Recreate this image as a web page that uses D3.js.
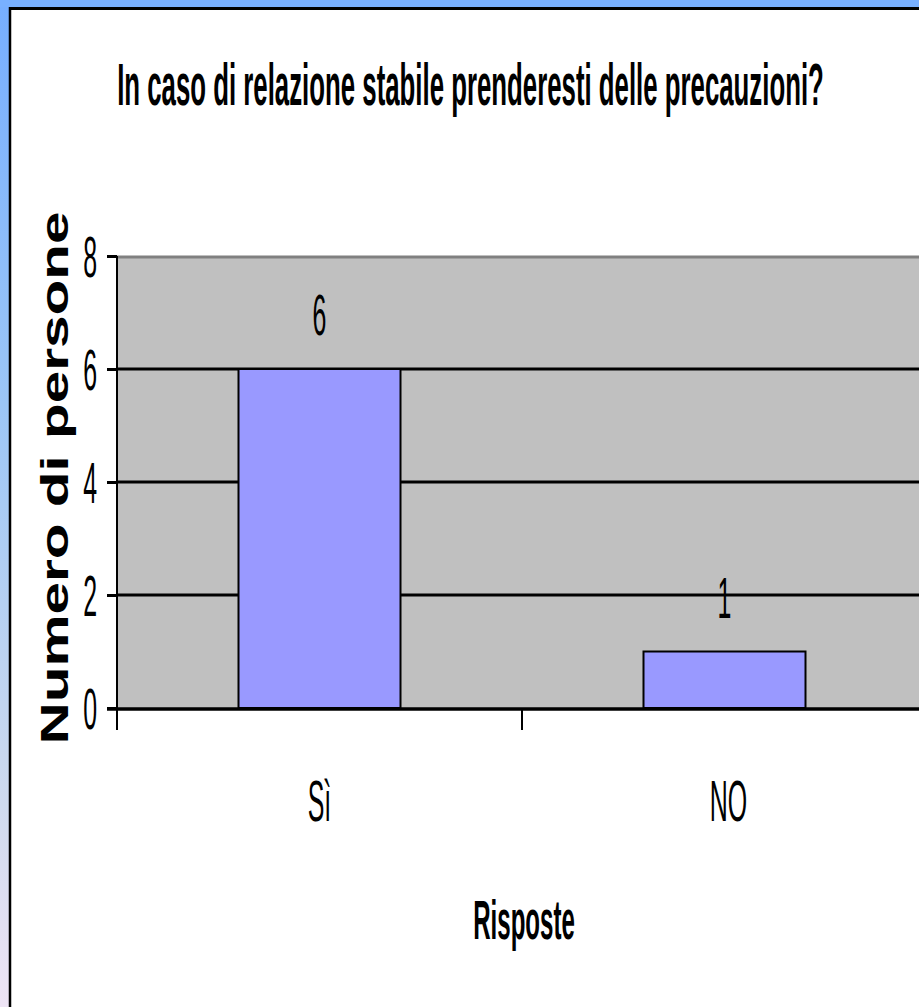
<!DOCTYPE html>
<html>
<head>
<meta charset="utf-8">
<script src="https://cdnjs.cloudflare.com/ajax/libs/d3/7.8.5/d3.min.js"></script>
<style>
html,body{margin:0;padding:0;background:#fff;}
svg{display:block;}
text{font-family:"Liberation Sans",Arial,sans-serif;fill:#000;}
</style>
</head>
<body>
<div id="chart"></div>
<script>
const categories = ["Sì", "NO"];
const values = [6, 1];
const yTicks = [0, 2, 4, 6, 8];
const titleText = "In caso di relazione stabile prenderesti delle precauzioni?";
const xTitle = "Risposte";
const yTitle = "Numero di persone";

const W = 919, H = 1007;
const SX = 0.43; // horizontal compression of glyphs
const plot = {left: 117, top: 256, bottom: 708, right: 927};

const svg = d3.select("#chart").append("svg").attr("width", W).attr("height", H);
const defs = svg.append("defs");
const grad = defs.append("linearGradient").attr("id", "frameGrad")
  .attr("x1", 0).attr("y1", 0).attr("x2", 0).attr("y2", 1);
grad.append("stop").attr("offset", "0%").attr("stop-color", "#76AEFF");
grad.append("stop").attr("offset", "40%").attr("stop-color", "#9CC6F6");
grad.append("stop").attr("offset", "80%").attr("stop-color", "#CFDAEE");
grad.append("stop").attr("offset", "100%").attr("stop-color", "#EEE4F5");

// frame
svg.append("rect").attr("x", 0).attr("y", 0).attr("width", W).attr("height", H).attr("fill", "url(#frameGrad)");
svg.append("rect").attr("x", 0).attr("y", 0).attr("width", W).attr("height", 7).attr("fill", "#78B0FF");
svg.append("rect").attr("x", 10).attr("y", 8).attr("width", W - 10).attr("height", H - 8).attr("fill", "#fff");
svg.append("line").attr("x1", 9).attr("x2", W).attr("y1", 8.5).attr("y2", 8.5).attr("stroke", "#000").attr("stroke-width", 3);
svg.append("line").attr("x1", 10).attr("x2", 10).attr("y1", 7).attr("y2", H).attr("stroke", "#000").attr("stroke-width", 2.5);

// scales
const x = d3.scaleBand().domain(categories).range([plot.left, plot.right])
  .paddingInner(0.6).paddingOuter(0.3);
const y = d3.scaleLinear().domain([0, 8]).range([plot.bottom, plot.top]);

// plot area
svg.append("rect").attr("x", plot.left).attr("y", y(8))
  .attr("width", plot.right - plot.left).attr("height", y(0) - y(8)).attr("fill", "#C0C0C0");
svg.append("line").attr("x1", plot.left).attr("x2", plot.right)
  .attr("y1", y(8) + 1).attr("y2", y(8) + 1).attr("stroke", "#808080").attr("stroke-width", 3);

// gridlines
svg.append("g").selectAll("line").data(yTicks.filter(t => t > 0 && t < 8)).join("line")
  .attr("x1", plot.left).attr("x2", plot.right)
  .attr("y1", d => y(d)).attr("y2", d => y(d))
  .attr("stroke", "#000").attr("stroke-width", 3);

// bars
svg.append("g").selectAll("rect").data(categories).join("rect")
  .attr("x", d => x(d)).attr("width", x.bandwidth())
  .attr("y", (d, i) => y(values[i])).attr("height", (d, i) => y(0) - y(values[i]))
  .attr("fill", "#9999FF").attr("stroke", "#000").attr("stroke-width", 2);

// y axis
const yAxis = d3.axisLeft(y).tickValues(yTicks).tickSize(10).tickFormat("");
const gy = svg.append("g").attr("transform", `translate(${plot.left},0)`).call(yAxis);
gy.select(".domain").attr("stroke", "#000").attr("stroke-width", 2).attr("d", `M0,${y(8)}V${y(0)}`);
gy.selectAll(".tick line").attr("stroke", "#000").attr("stroke-width", 3);

// x axis line + category boundary ticks
svg.append("line").attr("x1", plot.left - 10).attr("x2", plot.right)
  .attr("y1", y(0) + 1).attr("y2", y(0) + 1).attr("stroke", "#000").attr("stroke-width", 3.5);
const edges = d3.range(categories.length + 1).map(i => x.range()[0] + i * x.step());
svg.append("g").selectAll("line").data(edges).join("line")
  .attr("x1", d => d).attr("x2", d => d)
  .attr("y1", y(0)).attr("y2", y(0) + 22)
  .attr("stroke", "#000").attr("stroke-width", 2);

// text helper: glyphs compressed horizontally
function label(px, py, txt, fs, weight, anchor) {
  svg.append("text")
    .attr("transform", `translate(${px},${py}) scale(${SX},1)`)
    .attr("text-anchor", anchor || "middle")
    .attr("font-size", fs)
    .attr("font-weight", weight || "normal")
    .text(txt);
}

// title
label(470.5, 105, titleText, 60, "bold");

// y tick labels
yTicks.forEach(t => label(97, y(t) + 21, String(t), 58, "normal", "end"));

// value labels
categories.forEach((c, i) => label(x(c) + x.bandwidth() / 2, y(values[i]) - 34, String(values[i]), 58, "normal"));

// category labels
categories.forEach(c => label(x(c) + x.bandwidth() / 2 + (c === "NO" ? 4 : 0), 821, c, 58, "normal"));

// x title
label(524, 939, xTitle, 56, "bold");

// y title (rotated)
svg.append("text")
  .attr("transform", "translate(68,478) rotate(-90)")
  .attr("text-anchor", "middle")
  .attr("font-size", 38)
  .attr("font-weight", "bold")
  .attr("textLength", 533)
  .attr("lengthAdjust", "spacingAndGlyphs")
  .text(yTitle);
</script>
</body>
</html>
